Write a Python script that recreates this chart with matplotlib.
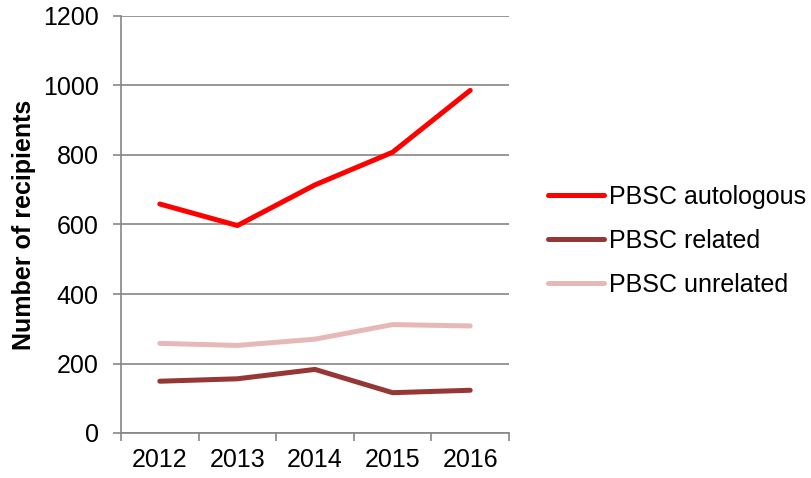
import matplotlib
matplotlib.use("Agg")
import matplotlib.pyplot as plt
import numpy as np

plt.rcParams['font.family'] = ['Liberation Sans', 'DejaVu Sans']

years = ['2012', '2013', '2014', '2015', '2016']
autologous = [659, 597, 714, 808, 986]
related = [149, 156, 183, 116, 123]
unrelated = [258, 252, 270, 312, 308]

series_names = ['PBSC autologous', 'PBSC related', 'PBSC unrelated']
series_colors = ['#ff0000', '#953735', '#e6b9b8']

fig = plt.figure(figsize=(8.11, 4.78), dpi=100)
ax = fig.add_axes([121 / 811, 45 / 478, 388 / 811, 417 / 478])

x = np.arange(len(years))
for vals, name, col in zip([autologous, related, unrelated], series_names, series_colors):
    ax.plot(x, vals, color=col, lw=3.6, label=name, solid_capstyle='round', solid_joinstyle='round')

grid_col = '#868686'
ax.set_xlim(-0.5, 4.5)
ax.set_ylim(0, 1200)
ax.set_yticks(range(0, 1201, 200))
ax.yaxis.grid(True, color=grid_col, lw=1.2)
ax.set_axisbelow(True)

ax.set_xticks(x)
ax.set_xticklabels(years)
ax.set_xticks(np.arange(-0.5, 5, 1), minor=True)
ax.tick_params(axis='x', which='major', length=0, pad=11, labelsize=18)
ax.tick_params(axis='x', which='minor', length=6, width=1.2, color=grid_col, direction='out')
ax.tick_params(axis='y', length=6, width=1.2, color=grid_col, pad=10, labelsize=18)

for s in ['top', 'right']:
    ax.spines[s].set_visible(False)
for s in ['left', 'bottom']:
    ax.spines[s].set_color(grid_col)
    ax.spines[s].set_linewidth(1.2)

ax.set_ylabel('Number of recipients', fontsize=18, fontweight='bold', labelpad=5)

ax.legend(loc='center left', bbox_to_anchor=(1.10, 0.46), frameon=False, fontsize=18,
          handlelength=2.25, handletextpad=0.18, labelspacing=0.8,
          borderpad=0, borderaxespad=0)

fig.savefig('out.png', dpi=100)
